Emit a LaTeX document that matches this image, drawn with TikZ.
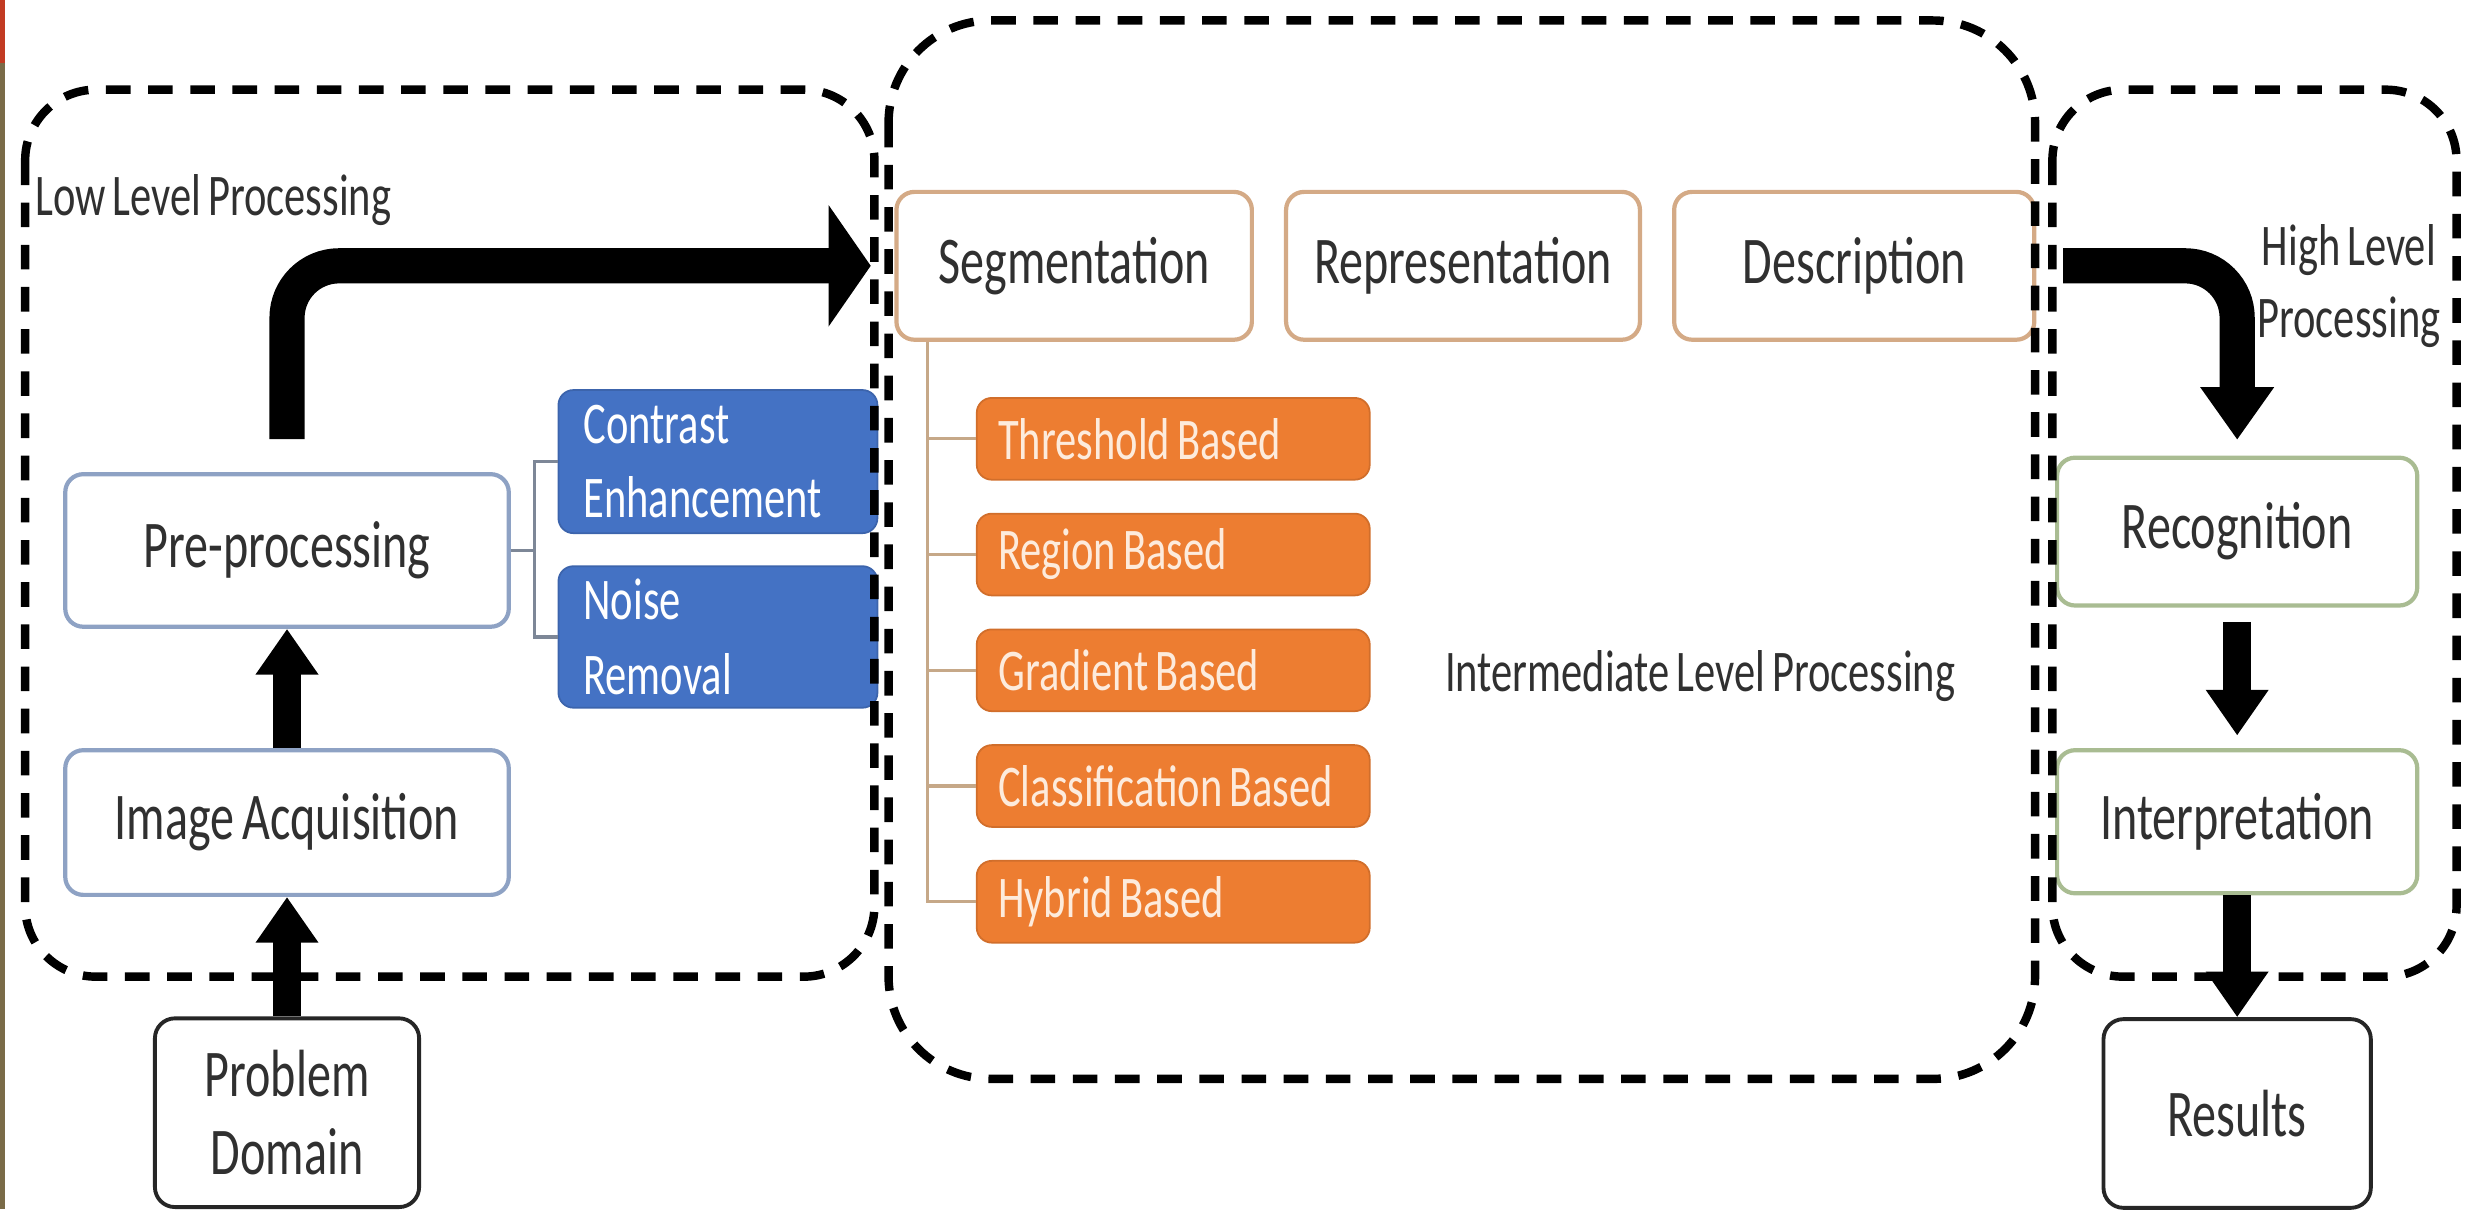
\documentclass[tikz,border=0pt]{standalone}
\usepackage{fontspec}
\setmainfont{Carlito}[FakeStretch=0.72, WordSpace=0.72]
\usetikzlibrary{arrows.meta,positioning}

\definecolor{txtgray}{HTML}{303030}
\definecolor{blueF}{HTML}{4472C4}
\definecolor{orangeF}{HTML}{ED7D31}
\definecolor{creamT}{HTML}{FDEBDC}
\definecolor{preB}{HTML}{8EA2C4}
\definecolor{segB}{HTML}{D4AA86}
\definecolor{recB}{HTML}{A9BC92}
\definecolor{tanL}{HTML}{C6A888}
\definecolor{grayL}{HTML}{7D8797}
\definecolor{stripB}{HTML}{7A6B48}
\definecolor{stripR}{HTML}{C23B22}

\newcommand{\bigfont}{\fontsize{19}{22}\selectfont}
\newcommand{\smallfont}{\fontsize{16.8}{21.3}\selectfont}
\newcommand{\upx}{0.15727mm}

\begin{document}
\begin{tikzpicture}[
                    x=0.15727mm, y=-0.15727mm,
                    every node/.style={inner sep=0pt, text=txtgray},
                    stagebox/.style={draw=#1, fill=white, line width=1.2pt,
                        rounded corners=1.8mm, font=\bigfont, align=center},
                    techbox/.style={fill=#1, draw=#1!88!black, line width=0.5pt,
                        rounded corners=1.5mm, text=white, font=\smallfont,
                        align=flush left, inner xsep=2.5mm},
                    segtype/.style={techbox=orangeF, text=creamT, text width=35mm,
                        inner xsep=2.15mm, minimum height=52*\upx},
                    endbox/.style={draw=black!85, fill=white, line width=1.1pt,
                        rounded corners=2mm, font=\bigfont, align=center},
                    levelbox/.style={draw=black, line width=2.4pt, dash pattern=on 7pt off 5pt},
                    midarrow/.style={line width=8pt, -{Triangle[length=13pt, width=17pt]}},
                    bigarrow/.style={line width=10pt, rounded corners=5.2mm},
                    branch/.style={draw=#1, line width=0.9pt}
                ]
                    \useasboundingbox (0,0) rectangle (1568,769);
                    \fill[stripR] (0,0) rectangle (3,40);
                    \fill[stripB] (0,40) rectangle (3,769);

                    % low level
                    \node[stagebox=preB, minimum width=282*\upx, minimum height=97*\upx] (pre) at (182.5,350) {Pre-processing};
                    \node[stagebox=preB, minimum width=282*\upx, minimum height=92*\upx] (acq) at (182.5,523) {Image Acquisition};
                    \node[endbox, minimum width=168*\upx, minimum height=120*\upx] (prob) at (182.5,707.5) {Problem\\Domain};
                    \node[techbox=blueF, text width=26.9mm, minimum height=91*\upx] (contrast) at (456.5,293.5) {Contrast\\Enhancement};
                    \node[techbox=blueF, text width=26.9mm, minimum height=90*\upx] (noise) at (456.5,405) {Noise\\Removal};
                    \node[anchor=west, font=\smallfont] (lowlbl) at (22,127) {Low Level Processing};

                    % intermediate level
                    \node[stagebox=segB, minimum width=226*\upx, minimum height=94*\upx] (seg) at (683,169) {Segmentation};
                    \node[stagebox=segB, minimum width=225*\upx, minimum height=94*\upx, right=3mm of seg] (rep) {Representation};
                    \node[stagebox=segB, minimum width=229*\upx, minimum height=94*\upx, right=3mm of rep] (desc) {Description};
                    \node[segtype] (thr) at (746,279) {Threshold Based};
                    \node[segtype, below=3.22mm of thr] (reg) {Region Based};
                    \node[segtype, below=3.22mm of reg] (grad) {Gradient Based};
                    \node[segtype, below=3.22mm of grad] (cls) {Classification Based};
                    \node[segtype, below=3.22mm of cls] (hyb) {Hybrid Based};
                    \node[font=\smallfont] (midlbl) at (1081,430) {Intermediate Level Processing};

                    % high level
                    \node[stagebox=recB, minimum width=229*\upx, minimum height=94*\upx] (rec) at (1422.5,338) {Recognition};
                    \node[stagebox=recB, minimum width=229*\upx, minimum height=91*\upx] (interp) at (1422.5,522.5) {Interpretation};
                    \node[endbox, minimum width=170*\upx, minimum height=120*\upx] (res) at (1422.5,708) {Results};
                    \node[align=center, font=\fontsize{16.8}{20.5}\selectfont] (highlbl) at (1493.5,182) {High Level\\Processing};

                    % branches
                    \coordinate (fork) at ([xshift=15*\upx]pre.east);
                    \draw[branch=grayL] (pre.east) -- (fork);
                    \draw[branch=grayL] (contrast.west) -| (fork) |- (noise.west);
                    \coordinate (trunk) at ([xshift=-93.5*\upx]seg.south);
                    \draw[branch=tanL] (trunk) |- (hyb.west);
                    \foreach \n in {thr,reg,grad,cls}
                        \draw[branch=tanL] (trunk |- \n.west) -- (\n.west);

                    % arrows
                    \draw[midarrow] (prob) -- (acq);
                    \draw[midarrow] (acq) -- (pre);
                    \draw[midarrow, shorten <=9*\upx, shorten >=8*\upx] (rec) -- (interp);
                    \draw[midarrow] (interp) -- (res);
                    \draw[bigarrow, -{Triangle[length=12pt, width=34pt]}] ([yshift=21*\upx]pre.north) |- ([xshift=-15*\upx]seg.west);
                    \draw[bigarrow, -{Triangle[length=15pt, width=20pt]}] ([xshift=17*\upx]desc.east) -| ([yshift=10*\upx]rec.north);

                    % level boxes
                    \draw[levelbox, rounded corners=45*\upx] (16,57) rectangle (556,621);
                    \draw[levelbox, rounded corners=65*\upx] (565,13) rectangle (1294,686);
                    \draw[levelbox, rounded corners=45*\upx] (1305,57) rectangle (1562,621);
                \end{tikzpicture}
\end{document}
